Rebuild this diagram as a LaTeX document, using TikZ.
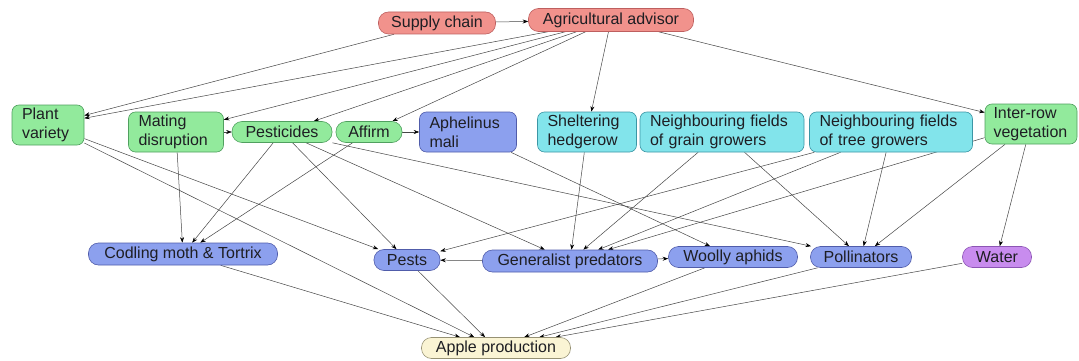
\documentclass[tikz,border=0pt]{standalone}
\usepackage{fontspec}
\setmainfont{Liberation Sans}
\usetikzlibrary{arrows.meta}
\definecolor{redf}{RGB}{241,146,140}
\definecolor{redd}{RGB}{190,95,95}
\definecolor{greenf}{RGB}{146,234,156}
\definecolor{greend}{RGB}{80,160,95}
\definecolor{bluef}{RGB}{140,160,238}
\definecolor{blued}{RGB}{80,92,170}
\definecolor{cyanf}{RGB}{130,228,235}
\definecolor{cyand}{RGB}{60,150,165}
\definecolor{purplef}{RGB}{200,140,238}
\definecolor{purpled}{RGB}{140,85,180}
\definecolor{beigef}{RGB}{250,244,212}
\definecolor{beiged}{RGB}{150,145,115}
\definecolor{txt}{RGB}{30,30,35}
\definecolor{edgecol}{RGB}{70,70,70}
\pgfdeclarelayer{bg}
\pgfdeclarelayer{edgelayer}
\pgfsetlayers{bg,edgelayer,main}
\begin{document}
\begin{tikzpicture}[x=1pt,y=-1pt,
  base/.style={draw, line width=0.6pt, text=txt, font=\fontsize{16}{19}\selectfont, inner sep=0pt},
  pill/.style={base, rounded corners=10pt, minimum height=22pt, align=center},
  box/.style={base, rounded corners=7pt, minimum height=40pt, align=left, inner xsep=10pt},
  redn/.style={fill=redf, draw=redd},
  greenn/.style={fill=greenf, draw=greend},
  bluen/.style={fill=bluef, draw=blued},
  cyann/.style={fill=cyanf, draw=cyand},
  purplen/.style={fill=purplef, draw=purpled},
  beigen/.style={fill=beigef, draw=beiged},
  conn/.style={draw=edgecol, line width=0.5pt, -{Stealth[length=5.5pt,width=4pt,black]}}
]
\begin{pgfonlayer}{bg}
\fill[white] (0,0) rectangle (1079,361);
\end{pgfonlayer}
\useasboundingbox (0,0) rectangle (1079,361);

% top row
\node[pill, redn, minimum width=117pt] (sc) at (437,23) {Supply chain};
\node[pill, redn, minimum width=165pt, minimum height=23pt] (aa) at (611,20) {Agricultural advisor};

% middle row
\node[box, greenn, text width=52pt] (pv) at (48,125) {Plant\\variety};
\node[box, greenn, text width=75pt] (md) at (176,132) {Mating\\disruption};
\node[pill, greenn, minimum width=100pt, minimum height=21pt] (pe) at (282,132) {Pesticides};
\node[pill, greenn, minimum width=66pt, minimum height=21pt] (af) at (369,132) {Affirm};
\node[box, bluen, text width=77pt] (am) at (468,132) {Aphelinus\\mali};
\node[box, cyann, text width=79pt] (sh) at (587,132) {Sheltering\\hedgerow};
\node[box, cyann, text width=144pt] (ng) at (722,132) {Neighbouring fields\\of grain growers};
\node[box, cyann, text width=143pt] (nt) at (891,132) {Neighbouring fields\\of tree growers};
\node[box, greenn, text width=75pt, inner xsep=8.5pt] (ir) at (1031,124) {Inter-row\\vegetation};

% bottom row
\node[pill, bluen, minimum width=189pt] (cm) at (183,254) {Codling moth \& Tortrix};
\node[pill, bluen, minimum width=66pt, minimum height=21pt] (ps) at (407,260) {Pests};
\node[pill, bluen, minimum width=175pt] (gp) at (570,261) {Generalist predators};
\node[pill, bluen, minimum width=129pt, minimum height=21pt] (wa) at (733,257) {Woolly aphids};
\node[pill, bluen, minimum width=101pt, minimum height=21pt] (po) at (861,257) {Pollinators};
\node[pill, purplen, minimum width=69pt, minimum height=21pt] (wt) at (997,257) {Water};
\node[pill, beigen, minimum width=149pt, minimum height=21pt] (ap) at (496,348) {Apple production};

\begin{pgfonlayer}{edgelayer}
\draw[conn] (sc) -- (aa);
\draw[conn] (sc) -- (pv);
\draw[conn] (aa) -- (pv);
\draw[conn] (aa) -- (md);
\draw[conn] (aa) -- (pe);
\draw[conn] (aa) -- (af);
\draw[conn] (aa) -- (sh);
\draw[conn] (aa) -- (ir);
\draw[conn] (md) -- (pe);
\draw[conn] (af) -- (am);
\draw[conn] (pv) -- (ps);
\draw[conn] (pv) -- (ap);
\draw[conn] (md) -- (cm);
\draw[conn] (pe) -- (cm);
\draw[conn] (af) -- (cm);
\draw[conn] (pe) -- (ps);
\draw[conn] (pe) -- (gp);
\draw[conn] (pe) -- (po);
\draw[conn] (am) -- (wa);
\draw[conn] (sh) -- (gp);
\draw[conn] (ng) -- (gp);
\draw[conn] (ng) -- (po);
\draw[conn] (nt) -- (ps);
\draw[conn] (nt) -- (gp);
\draw[conn] (nt) -- (po);
\draw[conn] (ir) -- (gp);
\draw[conn] (ir) -- (po);
\draw[conn] (ir) -- (wt);
\draw[conn] (gp) -- (ps);
\draw[conn] (gp) -- (wa);
\draw[conn] (cm) -- (ap);
\draw[conn] (ps) -- (ap);
\draw[conn] (wa) -- (ap);
\draw[conn] (po) -- (ap);
\draw[conn] (wt) -- (ap);
\end{pgfonlayer}
\end{tikzpicture}
\end{document}
